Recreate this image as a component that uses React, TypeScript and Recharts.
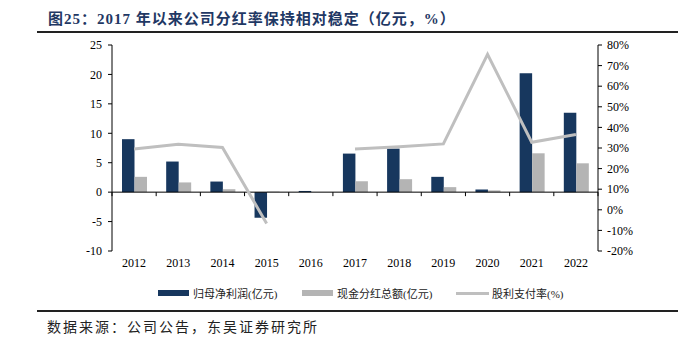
import React from 'react';
import { ComposedChart, Bar, Line, XAxis, YAxis, ReferenceLine } from 'recharts';

const years = ['2012', '2013', '2014', '2015', '2016', '2017', '2018', '2019', '2020', '2021', '2022'];
const netProfit = [9.0, 5.2, 1.8, -4.35, 0.2, 6.55, 7.4, 2.6, 0.45, 20.2, 13.5];
const cashDividend = [2.6, 1.65, 0.5, 0.1, 0, 1.85, 2.2, 0.85, 0.3, 6.6, 4.9];
const payoutRatio: (number | null)[] = [29.5, 31.8, 30.3, -6.6, null, 29.5, 30.6, 32, 75.5, 32.8, 36.6];

const leftTicks = [-10, -5, 0, 5, 10, 15, 20, 25];
const rightTicks = [-20, -10, 0, 10, 20, 30, 40, 50, 60, 70, 80];

const data = years.map((y, i) => ({
  year: y,
  profit: netProfit[i],
  dividend: cashDividend[i],
  ratio: payoutRatio[i],
}));

const NAVY = '#17375e';
const GRAY_BAR = '#b4b4b4';
const GRAY_LINE = '#bfbfbf';
const SERIF = '"Liberation Serif", "Times New Roman", "Noto Sans CJK SC", serif';
const CJK = '"Liberation Serif", "Noto Sans CJK SC", serif';

// zero line with category boundary ticks, like the excel category axis
const ZeroAxis = (props: any) => {
  const { x1, y1, x2 } = props;
  const n = years.length;
  const step = (x2 - x1) / n;
  const ticks = [];
  for (let k = 0; k <= n; k++) {
    const x = x1 + k * step;
    ticks.push(<line key={k} x1={x} y1={y1} x2={x} y2={y1 + 4} stroke="#000" strokeWidth={1} />);
  }
  return (
    <g>
      <line x1={x1} y1={y1} x2={x2} y2={y1} stroke="#000" strokeWidth={1} />
      {ticks}
    </g>
  );
};

const tickStyle = { fill: '#000', fontSize: 12, fontFamily: SERIF };

export default function App() {
  return (
    <div style={{ position: 'absolute', left: 0, top: 0, width: 694, height: 342, background: '#fff' }}>
      <div
        style={{
          position: 'absolute',
          left: 48,
          top: 7,
          fontSize: 15,
          fontWeight: 'bold',
          color: '#1f3864',
          fontFamily: CJK,
          letterSpacing: 1,
          whiteSpace: 'nowrap',
        }}
      >
        图25：2017 年以来公司分红率保持相对稳定（亿元，%）
      </div>
      <div style={{ position: 'absolute', left: 37, top: 31, width: 641, height: 2, background: '#222' }} />

      <div style={{ position: 'absolute', left: 0, top: 0 }}>
        <ComposedChart
          width={694}
          height={342}
          data={data}
          margin={{ top: 45, right: 0, bottom: 61, left: 0 }}
          barSize={12.5}
          barGap={0}
        >
          <XAxis
            dataKey="year"
            axisLine={false}
            tickLine={false}
            tickSize={0}
            tickMargin={7}
            height={30}
            tick={tickStyle}
            interval={0}
          />
          <YAxis
            yAxisId="left"
            domain={[-10, 25]}
            ticks={leftTicks}
            width={112}
            axisLine={{ stroke: '#000' }}
            tickLine={{ stroke: '#000' }}
            tickSize={4}
            tickMargin={6}
            tick={tickStyle}
            interval={0}
          />
          <YAxis
            yAxisId="right"
            orientation="right"
            domain={[-20, 80]}
            ticks={rightTicks}
            width={96}
            axisLine={{ stroke: '#000' }}
            tickLine={{ stroke: '#000' }}
            tickSize={4}
            tickMargin={5}
            tick={tickStyle}
            interval={0}
            tickFormatter={(v: number) => `${v}%`}
          />
          <Bar yAxisId="left" dataKey="profit" fill={NAVY} isAnimationActive={false} />
          <Bar yAxisId="left" dataKey="dividend" fill={GRAY_BAR} isAnimationActive={false} />
          <ReferenceLine yAxisId="left" y={0} shape={ZeroAxis} />
          <Line
            yAxisId="right"
            dataKey="ratio"
            stroke={GRAY_LINE}
            strokeWidth={3}
            dot={false}
            connectNulls={false}
            isAnimationActive={false}
          />
        </ComposedChart>
      </div>

      <div
        style={{
          position: 'absolute',
          top: 285,
          left: 158,
          display: 'flex',
          alignItems: 'center',
          fontFamily: CJK,
          fontSize: 11,
          color: '#222',
          whiteSpace: 'nowrap',
        }}
      >
        <span style={{ display: 'inline-block', width: 31, height: 6, background: NAVY, marginRight: 4 }} />
        <span style={{ display: 'inline-block', width: 109 }}>归母净利润(亿元)</span>
        <span style={{ display: 'inline-block', width: 31, height: 6, background: GRAY_BAR, marginRight: 4 }} />
        <span style={{ display: 'inline-block', width: 119 }}>现金分红总额(亿元)</span>
        <span style={{ display: 'inline-block', width: 33, height: 3, background: GRAY_LINE, marginRight: 3 }} />
        <span>股利支付率(%)</span>
      </div>

      <div style={{ position: 'absolute', left: 37, top: 310, width: 641, height: 2, background: '#222' }} />
      <div
        style={{
          position: 'absolute',
          left: 47,
          top: 316,
          fontSize: 14,
          fontFamily: CJK,
          color: '#222',
          letterSpacing: 2,
          whiteSpace: 'nowrap',
        }}
      >
        数据来源：公司公告，东吴证券研究所
      </div>
    </div>
  );
}
